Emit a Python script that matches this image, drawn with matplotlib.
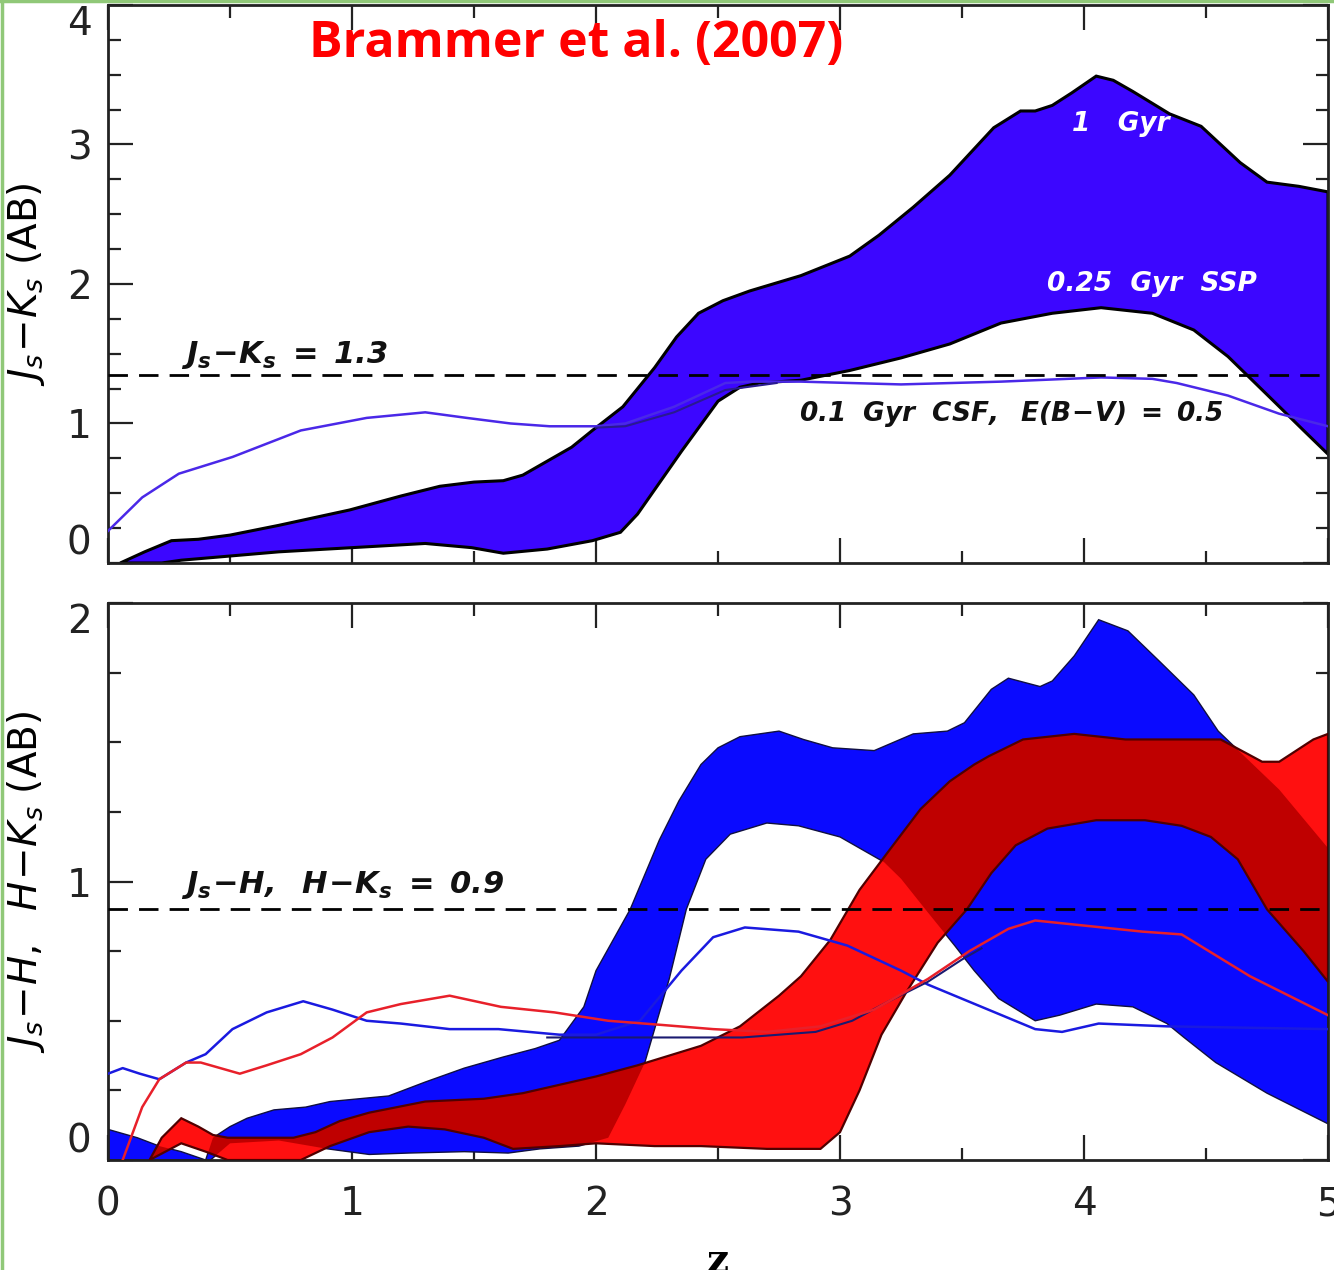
import numpy as np
import matplotlib
matplotlib.use("Agg")
import matplotlib.pyplot as plt
from matplotlib.ticker import MultipleLocator
from matplotlib.lines import Line2D

# ---- top panel: J_s - K_s ----
# 1 Gyr (upper) and 0.25 Gyr SSP (lower) edges of the band
top_up_z = [0.05, 0.15, 0.26, 0.37, 0.5, 0.7, 0.99, 1.2, 1.36, 1.5, 1.62, 1.7, 1.8, 1.9,
            1.985, 2.11, 2.24, 2.33, 2.42, 2.52, 2.63, 2.84, 3.04, 3.16, 3.3, 3.45, 3.63,
            3.74, 3.8, 3.87, 3.95, 4.05, 4.12, 4.2, 4.35, 4.48, 4.64, 4.75, 4.88, 5.0]
top_up_c = [0.0, 0.08, 0.16, 0.17, 0.2, 0.27, 0.38, 0.48, 0.55, 0.58, 0.59, 0.63, 0.73, 0.83,
            0.95, 1.12, 1.40, 1.62, 1.79, 1.88, 1.95, 2.06, 2.2, 2.35, 2.55, 2.78, 3.12,
            3.24, 3.24, 3.28, 3.37, 3.49, 3.46, 3.38, 3.22, 3.13, 2.87, 2.73, 2.70, 2.66]
top_lo_z = [0.05, 0.22, 0.3, 0.7, 1.0, 1.3, 1.49, 1.62, 1.8, 1.985, 2.1, 2.17, 2.35, 2.5,
            2.59, 2.67, 2.84, 3.04, 3.25, 3.45, 3.66, 3.87, 4.07, 4.28, 4.45, 4.59, 4.76,
            4.9, 5.0]
top_lo_c = [0.0, 0.0, 0.02, 0.08, 0.11, 0.14, 0.11, 0.07, 0.10, 0.16, 0.22, 0.35, 0.80, 1.16,
            1.26, 1.29, 1.31, 1.38, 1.47, 1.57, 1.72, 1.79, 1.83, 1.79, 1.67, 1.48, 1.19,
            0.95, 0.78]
# 0.1 Gyr CSF, E(B-V)=0.5
csf_top_z = [0.0, 0.14, 0.29, 0.51, 0.79, 1.06, 1.30, 1.47, 1.65, 1.81, 1.89, 2.0, 2.12,
             2.32, 2.53, 2.63, 2.84, 3.25, 3.66, 4.07, 4.28, 4.38, 4.59, 4.80, 5.0]
csf_top_c = [0.23, 0.47, 0.64, 0.76, 0.95, 1.04, 1.08, 1.04, 1.00, 0.98, 0.98, 0.98, 1.0,
             1.12, 1.29, 1.30, 1.30, 1.28, 1.30, 1.33, 1.32, 1.29, 1.20, 1.07, 0.98]
csf_top2_z = [2.0, 2.12, 2.32, 2.53, 2.74]
csf_top2_c = [0.97, 0.98, 1.08, 1.24, 1.29]

# ---- bottom panel: J_s - H (blue), H - K_s (red) ----
jh_up_z = [0.0, 0.12, 0.21, 0.3, 0.4, 0.43, 0.5, 0.57, 0.68, 0.81, 0.91, 1.15, 1.3, 1.46,
           1.62, 1.75, 1.85, 1.95, 2.0, 2.14, 2.26, 2.34, 2.43, 2.5, 2.59, 2.75, 2.85,
           2.97, 3.14, 3.30, 3.44, 3.51, 3.62, 3.69, 3.82, 3.87, 3.96, 4.06, 4.18, 4.31,
           4.45, 4.55, 4.8, 5.0]
jh_up_c = [0.11, 0.08, 0.05, 0.03, 0.0, 0.08, 0.12, 0.15, 0.18, 0.19, 0.21, 0.23, 0.28, 0.33,
           0.37, 0.40, 0.43, 0.55, 0.68, 0.9, 1.15, 1.29, 1.42, 1.48, 1.52, 1.54, 1.51,
           1.48, 1.47, 1.53, 1.54, 1.57, 1.69, 1.73, 1.70, 1.72, 1.81, 1.94, 1.90, 1.79,
           1.67, 1.54, 1.33, 1.12]
jh_lo_z = [0.0, 0.42, 0.5, 0.7, 0.9, 1.07, 1.23, 1.46, 1.64, 1.77, 1.93, 2.05, 2.12, 2.2,
           2.3, 2.37, 2.45, 2.55, 2.7, 2.83, 3.0, 3.18, 3.25, 3.35, 3.47, 3.55, 3.65, 3.8,
           3.9, 4.05, 4.2, 4.34, 4.41, 4.54, 4.75, 5.0]
jh_lo_c = [0.0, 0.0, 0.06, 0.07, 0.04, 0.02, 0.025, 0.03, 0.025, 0.04, 0.05, 0.08, 0.2, 0.35,
           0.65, 0.9, 1.08, 1.17, 1.21, 1.2, 1.16, 1.07, 1.01, 0.9, 0.77, 0.68, 0.58, 0.5,
           0.52, 0.56, 0.55, 0.49, 0.44, 0.35, 0.24, 0.13]
hk_up_z = [0.17, 0.22, 0.3, 0.37, 0.43, 0.49, 0.76, 0.85, 0.95, 1.07, 1.3, 1.54, 1.7, 1.85,
           2.0, 2.17, 2.43, 2.59, 2.75, 2.84, 2.96, 3.08, 3.2, 3.33, 3.45, 3.55, 3.61,
           3.75, 3.96, 4.17, 4.38, 4.56, 4.73, 4.8, 4.94, 5.0]
hk_up_c = [0.0, 0.08, 0.15, 0.12, 0.09, 0.08, 0.08, 0.1, 0.14, 0.17, 0.21, 0.22, 0.24, 0.27,
           0.30, 0.34, 0.41, 0.48, 0.59, 0.66, 0.79, 0.97, 1.11, 1.26, 1.36, 1.42, 1.45,
           1.51, 1.53, 1.51, 1.51, 1.51, 1.43, 1.43, 1.51, 1.53]
hk_lo_z = [0.17, 0.3, 0.4, 0.49, 0.79, 0.91, 1.07, 1.23, 1.38, 1.54, 1.66, 1.85, 2.0, 2.24,
           2.43, 2.7, 2.92, 3.0, 3.08, 3.17, 3.27, 3.4, 3.52, 3.62, 3.72, 3.85, 4.05, 4.25,
           4.4, 4.52, 4.63, 4.75, 4.9, 5.0]
hk_lo_c = [0.0, 0.06, 0.03, 0.0, 0.0, 0.05, 0.1, 0.12, 0.11, 0.08, 0.04, 0.05, 0.06, 0.05,
           0.05, 0.04, 0.04, 0.1, 0.25, 0.45, 0.6, 0.78, 0.9, 1.03, 1.13, 1.19, 1.22, 1.22,
           1.2, 1.16, 1.08, 0.9, 0.75, 0.64]
# CSF tracks
csf_jh_z = [0.0, 0.06, 0.13, 0.21, 0.32, 0.40, 0.51, 0.65, 0.80, 0.92, 1.06, 1.2, 1.4, 1.6,
            1.85, 2.0, 2.18, 2.35, 2.48, 2.61, 2.83, 3.03, 3.25, 3.36, 3.58, 3.8, 3.91,
            4.06, 4.34, 5.0]
csf_jh_c = [0.31, 0.33, 0.31, 0.29, 0.35, 0.38, 0.47, 0.53, 0.57, 0.54, 0.50, 0.49, 0.47, 0.47,
            0.45, 0.45, 0.50, 0.68, 0.80, 0.835, 0.82, 0.77, 0.68, 0.63, 0.55, 0.47, 0.46,
            0.49, 0.48, 0.47]
csf_hk_z = [0.06, 0.14, 0.21, 0.32, 0.38, 0.54, 0.65, 0.79, 0.92, 1.06, 1.2, 1.4, 1.61, 1.83,
            2.05, 2.27, 2.48, 2.70, 2.92, 3.14, 3.36, 3.53, 3.69, 3.8, 4.02, 4.24, 4.4, 4.68,
            5.0]
csf_hk_c = [0.0, 0.19, 0.29, 0.35, 0.35, 0.31, 0.34, 0.38, 0.44, 0.53, 0.56, 0.59, 0.55, 0.53,
            0.50, 0.485, 0.47, 0.46, 0.48, 0.54, 0.65, 0.75, 0.83, 0.86, 0.84, 0.82, 0.81,
            0.66, 0.52]
csf_alt_z = [1.8, 2.2, 2.6, 2.9, 3.05, 3.2, 3.36, 3.5, 3.58]
csf_alt_c = [0.44, 0.44, 0.44, 0.46, 0.5, 0.57, 0.64, 0.72, 0.76]

cut_top = 1.35
cut_bot = 0.9

plt.rcParams['mathtext.fontset'] = 'custom'
plt.rcParams['mathtext.rm'] = 'DejaVu Sans'
plt.rcParams['mathtext.it'] = 'DejaVu Sans:italic'
plt.rcParams['mathtext.bf'] = 'DejaVu Sans:italic:bold'

violet = '#3c06ff'
blue = '#0a0aff'
red = '#ff1010'
dkred = '#bf0000'

fig = plt.figure(figsize=(13.34, 12.70), dpi=100)
ax1 = fig.add_axes([0.081, 0.5567, 0.9145, 0.4394])
ax2 = fig.add_axes([0.081, 0.0866, 0.9145, 0.4386])

# top panel
ax1.fill(np.r_[top_up_z, top_lo_z[::-1]], np.r_[top_up_c, top_lo_c[::-1]],
         facecolor=violet, edgecolor='black', lw=2.2, zorder=2)
ax1.plot(csf_top_z, csf_top_c, color='#4a28e8', lw=1.8, zorder=3)
ax1.plot(csf_top2_z, csf_top2_c, color='#2a1a90', lw=1.5, zorder=3)
ax1.axhline(cut_top, color='black', lw=2, dashes=(7, 4), zorder=4)
ax1.text(0.3, 1.43, r'$\mathbf{J_s\!-\!K_s\ =\ 1.3}$', fontsize=22, color='#111111')
ax1.text(3.95, 3.1, '1   Gyr', fontsize=19, color='white', style='italic', weight='bold')
ax1.text(3.85, 1.95, '0.25  Gyr  SSP', fontsize=19, color='white', style='italic', weight='bold')
ax1.text(2.83, 1.02, r'$\mathbf{0.1\ \ Gyr\ \ CSF,\ \ E(B\!-\!V)\ =\ 0.5}$', fontsize=19,
         color='#111111')
ax1.set_ylim(0, 4)
ax1.set_ylabel(r'$J_s\!-\!K_s$ (AB)', fontsize=28, labelpad=14)

# bottom panel
blue_patch = ax2.fill(np.r_[jh_up_z, jh_lo_z[::-1]], np.r_[jh_up_c, jh_lo_c[::-1]],
                      facecolor=blue, edgecolor='#101040', lw=1.0, zorder=2)[0]
hk_x = np.r_[hk_up_z, hk_lo_z[::-1]]
hk_y = np.r_[hk_up_c, hk_lo_c[::-1]]
ax2.fill(hk_x, hk_y, facecolor=red, edgecolor='none', zorder=3)
# red over the blue band shows dark red
dark = ax2.fill(hk_x, hk_y, facecolor=dkred, edgecolor='none', zorder=3.5)[0]
dark.set_clip_path(blue_patch)
ax2.fill(hk_x, hk_y, facecolor='none', edgecolor='#500000', lw=1.6, zorder=3.6)
ax2.plot(csf_jh_z, csf_jh_c, color='#1a1ae0', lw=1.8, zorder=5)
ax2.plot(csf_alt_z, csf_alt_c, color='#1a1a70', lw=1.5, zorder=5)
ax2.plot(csf_hk_z, csf_hk_c, color='#e8202a', lw=1.8, zorder=5)
ax2.axhline(cut_bot, color='black', lw=2, dashes=(7, 4), zorder=6)
ax2.text(0.3, 0.96, r'$\mathbf{J_s\!-\!H,\ \ H\!-\!K_s\ =\ 0.9}$', fontsize=22, color='#111111')
ax2.set_ylim(0, 2)
ax2.set_ylabel(r'$J_s\!-\!H,\ \ H\!-\!K_s$ (AB)', fontsize=28, labelpad=14)
ax2.set_xlabel('z', fontsize=28, family='DejaVu Serif', weight='bold', labelpad=14)

for ax in (ax1, ax2):
    ax.set_xlim(0, 5)
    ax.xaxis.set_major_locator(MultipleLocator(1))
    ax.xaxis.set_minor_locator(MultipleLocator(0.5))
    ax.yaxis.set_major_locator(MultipleLocator(1))
    ax.yaxis.set_minor_locator(MultipleLocator(0.25))
    ax.tick_params(which='both', direction='in', top=True, right=True, width=1.6,
                   colors='#222222', labelsize=28)
    ax.tick_params(which='major', length=18)
    ax.tick_params(which='minor', length=9)
    ax.tick_params(axis='x', pad=18)
    ax.tick_params(axis='y', pad=12)
    for s in ax.spines.values():
        s.set_linewidth(2)
        s.set_color('#222222')
ax1.tick_params(labelbottom=False)

# end labels sit inside the frame, as in the original
ax1.set_yticks([0, 1, 2, 3, 4])
ax2.set_yticks([0, 1, 2])
for ax in (ax1, ax2):
    labs = ax.get_yticklabels()
    labs[-1].set_verticalalignment('top')
    labs[0].set_verticalalignment('bottom')

fig.text(576 / 1334, 1 - 44 / 1270, 'Brammer et al. (2007)', color='#ff0000', fontsize=36,
         weight='bold', family='Open Sans', ha='center', va='center')

# thin green slide border on the left and top
fig.add_artist(Line2D([0.0015, 0.0015], [0, 1], color='#90c878', lw=2.5))
fig.add_artist(Line2D([0, 1], [0.999, 0.999], color='#90c878', lw=2.5))

fig.savefig('out.png', dpi=100)
